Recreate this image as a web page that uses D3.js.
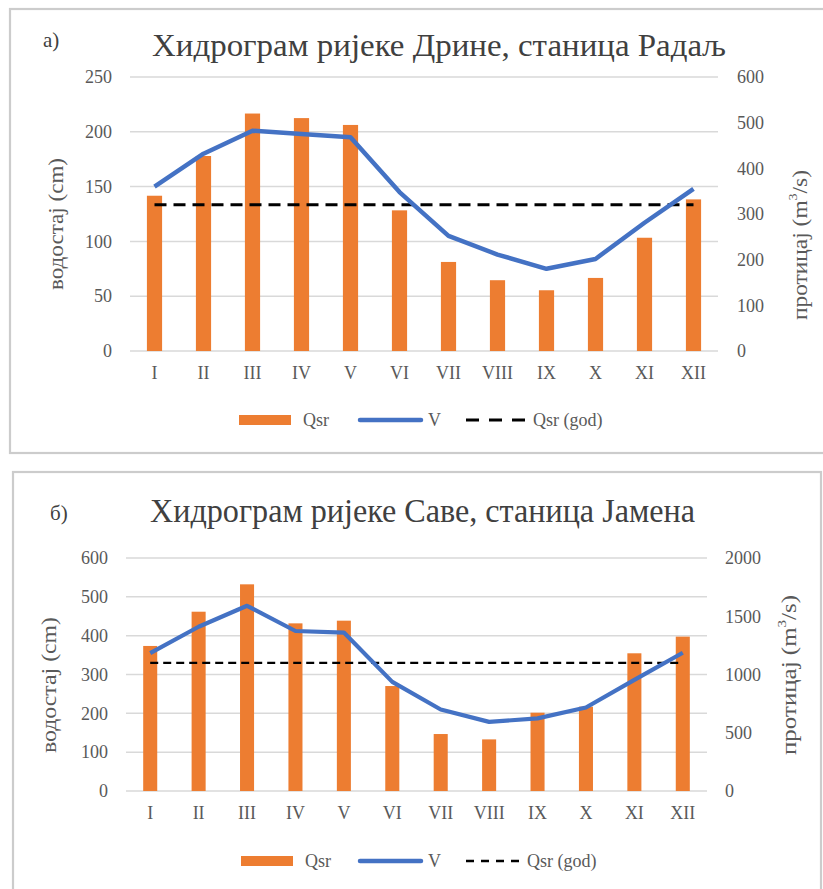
<!DOCTYPE html>
<html>
<head>
<meta charset="utf-8">
<script src="https://cdn.jsdelivr.net/npm/d3@7"></script>
<style>
  html, body { margin: 0; padding: 0; background: #fff; }
  svg { display: block; }
  svg text { font-family: "Liberation Serif", "DejaVu Serif", serif !important; fill: #595959; }
</style>
</head>
<body>
<svg id="chart" width="823" height="889"></svg>
<script>
// Month labels (Roman numerals)
const months = ["I", "II", "III", "IV", "V", "VI", "VII", "VIII", "IX", "X", "XI", "XII"];

// Drina, station Radalj: mean monthly discharge (m³/s), water level (cm), annual mean discharge
const drinaQsr = [340, 427, 520, 510, 495, 308, 195, 155, 133, 160, 248, 332];
const drinaV = [150, 180, 201, 198, 195, 145, 105, 88, 75, 84, 117, 148];
const drinaQgod = 320;
const drinaLevelTicks = [0, 50, 100, 150, 200, 250];
const drinaFlowTicks = [0, 100, 200, 300, 400, 500, 600];

// Sava, station Jamena
const savaQsr = [1245, 1539, 1774, 1439, 1462, 901, 489, 443, 672, 724, 1182, 1325];
const savaV = [355, 423, 477, 412, 408, 281, 210, 178, 187, 215, 286, 356];
const savaQgod = 1100;
const savaLevelTicks = [0, 100, 200, 300, 400, 500, 600];
const savaFlowTicks = [0, 500, 1000, 1500, 2000];

const legendLabels = ["Qsr", "V", "Qsr (god)"];

const ORANGE = "#ED7D31", BLUE = "#4472C4", GRID = "#d9d9d9", FRAME = "#cccccc";
const SERIF = "'Liberation Serif', 'DejaVu Serif', serif";

const svg = d3.select("#chart");

function serif(sel) {
  return sel.style("font-family", SERIF);
}

function drawPanel(cfg) {
  const g = svg.append("g");

  // panel frame
  g.append("rect")
    .attr("x", cfg.frame.x).attr("y", cfg.frame.y)
    .attr("width", cfg.frame.w).attr("height", cfg.frame.h)
    .attr("fill", "#fff").attr("stroke", FRAME).attr("stroke-width", 2.2);

  // panel letter and title
  serif(g.append("text")).attr("x", cfg.letter.x).attr("y", cfg.letter.y)
    .attr("font-size", 21).style("fill", "#404040").text(cfg.letter.t);
  serif(g.append("text")).attr("x", cfg.title.x).attr("y", cfg.title.y)
    .attr("font-size", cfg.title.size)
    .attr("textLength", cfg.title.len).attr("lengthAdjust", "spacingAndGlyphs")
    .style("fill", "#404040")
    .text(cfg.title.t);

  const x = d3.scaleBand().domain(months).range([cfg.left, cfg.right]);
  const yL = d3.scaleLinear().domain([0, d3.max(cfg.levelTicks)]).range([cfg.bottom, cfg.top]);
  const yR = d3.scaleLinear().domain([0, d3.max(cfg.flowTicks)]).range([cfg.bottom, cfg.top]);

  // gridlines
  g.append("g").selectAll("line").data(cfg.levelTicks).join("line")
    .attr("x1", cfg.left).attr("x2", cfg.right)
    .attr("y1", d => yL(d)).attr("y2", d => yL(d))
    .attr("stroke", GRID).attr("stroke-width", 1.5);

  // left axis (water level)
  const axL = g.append("g").attr("transform", `translate(${cfg.leftLabelX},0)`)
    .call(d3.axisLeft(yL).tickValues(cfg.levelTicks).tickFormat(d3.format("d")).tickSize(0).tickPadding(0));
  axL.attr("font-family", null).select(".domain").remove();
  serif(axL.selectAll("text")).attr("font-size", 18).style("fill", "#595959");

  // right axis (discharge)
  const axR = g.append("g").attr("transform", `translate(${cfg.rightLabelX},0)`)
    .call(d3.axisRight(yR).tickValues(cfg.flowTicks).tickFormat(d3.format("d")).tickSize(0).tickPadding(0));
  axR.attr("font-family", null).select(".domain").remove();
  serif(axR.selectAll("text")).attr("font-size", 18).style("fill", "#595959");

  // month axis
  const axX = g.append("g").attr("transform", `translate(0,${cfg.monthY})`)
    .call(d3.axisBottom(x).tickSize(0).tickPadding(0));
  axX.attr("font-family", null).select(".domain").remove();
  serif(axX.selectAll("text")).attr("font-size", 18).style("fill", "#595959");

  // axis titles
  serif(g.append("text"))
    .attr("transform", `translate(${cfg.lTitle.x},${cfg.lTitle.y}) rotate(-90)`)
    .attr("text-anchor", "middle").attr("dominant-baseline", "central")
    .attr("font-size", 20)
    .attr("textLength", cfg.lTitle.len).attr("lengthAdjust", "spacingAndGlyphs")
    .text("водостај (cm)");
  const rt = serif(g.append("text"))
    .attr("transform", `translate(${cfg.rTitle.x},${cfg.rTitle.y}) rotate(-90)`)
    .attr("text-anchor", "middle").attr("dominant-baseline", "central")
    .attr("font-size", 20)
    .attr("textLength", cfg.rTitle.len).attr("lengthAdjust", "spacingAndGlyphs");
  rt.append("tspan").text("протицај (m");
  rt.append("tspan").attr("font-size", 12).attr("dy", -7).text("3");
  rt.append("tspan").attr("dy", 7).text("/s)");

  // discharge bars
  const bw = x.bandwidth() * cfg.barFrac;
  g.append("g").selectAll("rect").data(cfg.qsr).join("rect")
    .attr("x", (d, i) => x(months[i]) + x.bandwidth() / 2 - bw / 2)
    .attr("width", bw)
    .attr("y", d => yR(d))
    .attr("height", d => yR(0) - yR(d))
    .attr("fill", ORANGE);

  const cx = m => x(m) + x.bandwidth() / 2;

  // annual mean discharge
  g.append("line")
    .attr("x1", cx(months[0])).attr("x2", cx(months[11]))
    .attr("y1", yR(cfg.qgod)).attr("y2", yR(cfg.qgod))
    .attr("stroke", "#000").attr("stroke-width", cfg.dash.w)
    .attr("stroke-dasharray", cfg.dash.pattern);

  // water level line
  g.append("path").datum(cfg.level)
    .attr("d", d3.line().x((d, i) => cx(months[i])).y(d => yL(d)))
    .attr("fill", "none").attr("stroke", BLUE)
    .attr("stroke-width", cfg.lineW).attr("stroke-linejoin", "round");

  // legend
  const L = cfg.legend;
  const lg = g.append("g");
  lg.append("rect").attr("x", L.x0).attr("y", L.y - 5).attr("width", 52).attr("height", 10)
    .attr("fill", ORANGE);
  serif(lg.append("text")).attr("x", L.x0 + 64).attr("y", L.y + 6)
    .attr("font-size", 18).text(legendLabels[0]);
  lg.append("line").attr("x1", L.x1).attr("x2", L.x1 + 61).attr("y1", L.y).attr("y2", L.y)
    .attr("stroke", BLUE).attr("stroke-width", 4.5).attr("stroke-linecap", "round");
  serif(lg.append("text")).attr("x", L.x1 + 68).attr("y", L.y + 6)
    .attr("font-size", 18).text(legendLabels[1]);
  lg.append("line").attr("x1", L.x2).attr("x2", L.x2 + L.dashLen).attr("y1", L.y).attr("y2", L.y)
    .attr("stroke", "#000").attr("stroke-width", cfg.dash.w)
    .attr("stroke-dasharray", cfg.dash.legendPattern);
  serif(lg.append("text")).attr("x", L.x2 + L.dashLen + 8).attr("y", L.y + 6)
    .attr("font-size", 18).text(legendLabels[2]);
}

drawPanel({
  frame: { x: 10, y: 9, w: 830, h: 444 },
  letter: { x: 43, y: 47, t: "а)" },
  title: { x: 152, y: 56, size: 32, len: 574, t: "Хидрограм ријеке Дрине, станица Радаљ" },
  left: 130, right: 718, top: 77, bottom: 351,
  levelTicks: drinaLevelTicks, flowTicks: drinaFlowTicks,
  leftLabelX: 112, rightLabelX: 737, monthY: 366,
  lTitle: { x: 56, y: 224, len: 132 },
  rTitle: { x: 800, y: 245, len: 150 },
  qsr: drinaQsr, level: drinaV, qgod: drinaQgod,
  barFrac: 0.31, lineW: 4.5,
  dash: { w: 3, pattern: "12,7", legendPattern: "13,10" },
  legend: { y: 420, x0: 239, x1: 360, x2: 466, dashLen: 59 }
});

drawPanel({
  frame: { x: 13, y: 472, w: 808, h: 430 },
  letter: { x: 50, y: 520, t: "б)" },
  title: { x: 150, y: 522, size: 33, len: 545, t: "Хидрограм ријеке Саве, станица Јамена" },
  left: 126, right: 707, top: 558, bottom: 791,
  levelTicks: savaLevelTicks, flowTicks: savaFlowTicks,
  leftLabelX: 108, rightLabelX: 725, monthY: 806,
  lTitle: { x: 49, y: 685, len: 136 },
  rTitle: { x: 789, y: 675, len: 160 },
  qsr: savaQsr, level: savaV, qgod: savaQgod,
  barFrac: 0.29, lineW: 4.2,
  dash: { w: 2.4, pattern: "8,5", legendPattern: "8,7" },
  legend: { y: 861, x0: 241, x1: 360, x2: 466, dashLen: 53 }
});
</script>
</body>
</html>
